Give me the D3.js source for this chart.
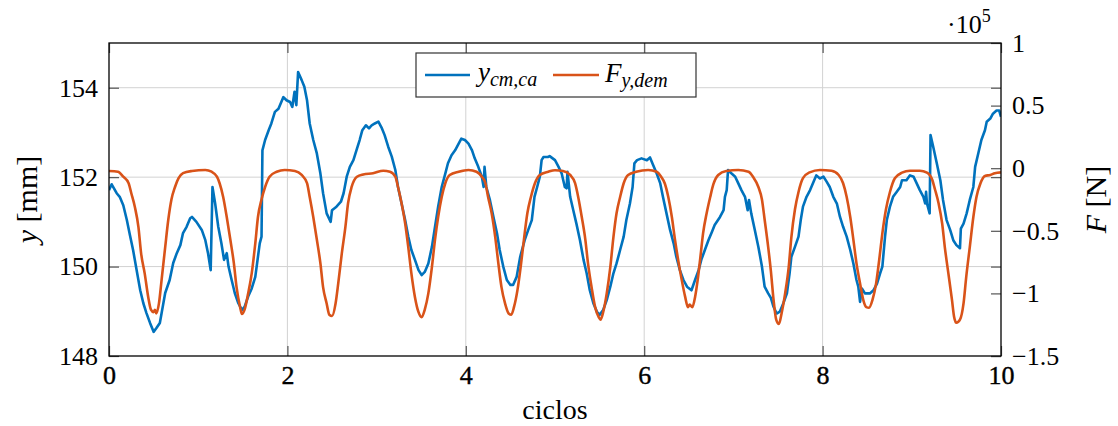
<!DOCTYPE html>
<html>
<head>
<meta charset="utf-8">
<script src="https://cdn.jsdelivr.net/npm/d3@7/dist/d3.min.js"></script>
<style>
  html, body { margin: 0; padding: 0; background: #fff; }
  svg { display: block; }
  text { font-family: "Liberation Serif", "DejaVu Serif", serif; fill: #000; }
</style>
</head>
<body>
<svg id="chart" width="1118" height="426"></svg>
<script>
// Ciclos (x) for the measured centre-of-mass displacement y_cm,ca [mm]
const yCmX = [0.00,0.03,0.086,0.12,0.16,0.20,0.235,0.27,0.31,0.35,0.385,0.42,0.46,0.50,0.53,0.57,0.59,0.63,0.68,0.72,0.76,0.80,0.83,0.87,0.91,0.93,0.98,1.04,1.08,1.11,1.14,1.16,1.19,1.225,1.26,1.29,1.32,1.34,1.375,1.41,1.45,1.49,1.52,1.56,1.60,1.64,1.67,1.69,1.71,1.72,1.75,1.79,1.82,1.86,1.90,1.94,1.955,1.99,2.03,2.055,2.08,2.10,2.12,2.16,2.19,2.22,2.25,2.29,2.33,2.37,2.40,2.44,2.485,2.50,2.55,2.60,2.63,2.665,2.70,2.74,2.78,2.81,2.84,2.88,2.915,2.945,2.98,3.02,3.06,3.09,3.13,3.17,3.21,3.24,3.28,3.32,3.355,3.39,3.43,3.47,3.505,3.54,3.58,3.62,3.655,3.69,3.73,3.77,3.80,3.84,3.88,3.92,3.95,3.99,4.03,4.07,4.10,4.14,4.18,4.20,4.21,4.23,4.27,4.31,4.35,4.38,4.42,4.46,4.50,4.53,4.57,4.61,4.66,4.70,4.74,4.77,4.80,4.83,4.85,4.87,4.92,4.94,5.00,5.04,5.075,5.11,5.13,5.14,5.17,5.205,5.24,5.28,5.32,5.355,5.39,5.43,5.47,5.50,5.54,5.58,5.62,5.655,5.69,5.73,5.77,5.80,5.84,5.87,5.89,5.92,5.97,6.03,6.065,6.10,6.14,6.18,6.21,6.25,6.29,6.33,6.36,6.40,6.44,6.48,6.53,6.57,6.61,6.64,6.68,6.72,6.76,6.79,6.85,6.89,6.905,6.925,6.94,6.98,7.02,7.055,7.09,7.13,7.16,7.175,7.20,7.24,7.28,7.32,7.35,7.39,7.42,7.45,7.485,7.52,7.56,7.60,7.63,7.65,7.69,7.73,7.755,7.78,7.82,7.86,7.90,7.93,7.97,8.01,8.045,8.08,8.12,8.16,8.195,8.23,8.27,8.31,8.345,8.38,8.40,8.42,8.44,8.475,8.53,8.57,8.61,8.645,8.67,8.70,8.72,8.755,8.79,8.83,8.87,8.89,8.94,8.98,9.02,9.055,9.09,9.13,9.15,9.16,9.17,9.20,9.21,9.24,9.28,9.32,9.35,9.39,9.43,9.465,9.50,9.54,9.55,9.58,9.615,9.65,9.69,9.71,9.745,9.78,9.82,9.84,9.88,9.91,9.95,9.98,10.0];
const yCmVal = [151.71,151.84,151.64,151.56,151.37,151.04,150.70,150.37,149.92,149.47,149.18,148.96,148.74,148.54,148.62,148.74,148.96,149.41,149.70,150.08,150.30,150.48,150.75,150.89,151.08,151.11,151.00,150.82,150.59,150.30,149.92,151.78,151.41,150.89,150.52,150.15,150.30,150.00,149.70,149.41,149.18,149.03,149.10,149.33,149.51,149.77,150.22,150.52,150.67,152.60,152.83,153.05,153.20,153.46,153.53,153.72,153.79,153.72,153.68,153.57,153.91,153.61,154.35,154.17,154.02,153.72,153.20,152.83,152.53,152.08,151.64,151.19,151.00,151.26,151.34,151.45,151.64,152.01,152.23,152.38,152.64,152.83,153.05,153.16,153.09,153.16,153.20,153.24,153.09,152.94,152.68,152.46,152.16,151.78,151.41,151.04,150.67,150.37,150.15,149.92,149.81,149.88,150.07,150.44,150.89,151.34,151.78,152.08,152.31,152.49,152.60,152.75,152.86,152.83,152.75,152.60,152.42,152.23,152.01,151.78,152.23,151.78,151.49,151.11,150.74,150.37,150.00,149.70,149.59,149.59,149.77,150.22,150.59,150.82,151.04,151.56,151.78,152.01,152.38,152.45,152.45,152.47,152.38,152.23,152.08,151.78,151.75,152.12,151.56,151.26,150.96,150.59,150.15,149.85,149.47,149.18,148.99,148.92,149.03,149.25,149.55,149.85,150.07,150.37,150.67,151.04,151.41,151.78,152.31,152.38,152.42,152.38,152.44,152.27,152.08,151.86,151.56,151.19,150.82,150.52,150.22,149.92,149.70,149.55,149.47,149.70,149.92,150.15,150.37,150.59,150.78,150.93,151.11,151.26,151.56,151.71,152.16,152.08,152.01,151.86,151.71,151.56,151.26,151.49,151.19,150.82,150.44,150.00,149.55,149.40,149.30,149.10,148.95,148.99,149.18,149.40,149.85,150.22,150.44,150.67,151.04,151.34,151.56,151.71,151.90,152.04,151.97,152.01,151.90,151.78,151.56,151.41,151.11,150.89,150.67,150.37,150.07,149.70,149.55,149.21,149.51,149.40,149.40,149.47,149.62,149.85,150.00,150.67,151.04,151.34,151.56,151.67,151.78,151.93,151.93,152.04,152.01,151.86,151.71,151.56,151.41,151.67,151.41,151.19,152.94,152.68,152.31,151.93,151.49,151.04,150.82,150.59,150.48,150.41,150.85,150.96,151.19,151.49,151.78,152.23,152.53,152.83,153.05,153.24,153.31,153.42,153.49,153.49,153.35];

// Ciclos (x) for the demanded force F_y,dem, values in units of 10^5 N
const fDemX = [0.00,0.10,0.16,0.22,0.25,0.29,0.33,0.36,0.40,0.44,0.47,0.50,0.515,0.53,0.56,0.59,0.63,0.665,0.70,0.74,0.78,0.83,0.93,1.08,1.15,1.21,1.24,1.28,1.32,1.36,1.40,1.43,1.47,1.49,1.52,1.56,1.60,1.64,1.67,1.71,1.75,1.80,1.88,1.97,2.085,2.16,2.22,2.25,2.29,2.33,2.37,2.40,2.44,2.47,2.50,2.54,2.57,2.61,2.65,2.68,2.72,2.78,2.85,2.96,3.075,3.15,3.21,3.24,3.28,3.32,3.355,3.39,3.43,3.47,3.505,3.54,3.58,3.62,3.655,3.69,3.73,3.77,3.82,3.92,4.03,4.12,4.18,4.22,4.25,4.29,4.33,4.365,4.40,4.44,4.48,4.51,4.54,4.58,4.62,4.655,4.69,4.73,4.775,4.83,4.925,5.00,5.09,5.17,5.225,5.26,5.30,5.34,5.37,5.41,5.45,5.49,5.51,5.54,5.58,5.62,5.655,5.69,5.73,5.77,5.82,5.91,6.045,6.14,6.19,6.23,6.27,6.31,6.345,6.38,6.42,6.46,6.49,6.51,6.54,6.57,6.60,6.63,6.66,6.70,6.74,6.775,6.83,6.92,7.055,7.17,7.22,7.28,7.32,7.35,7.39,7.42,7.45,7.48,7.51,7.54,7.58,7.62,7.65,7.69,7.73,7.78,7.855,7.97,8.10,8.18,8.23,8.27,8.31,8.345,8.38,8.42,8.455,8.49,8.52,8.56,8.60,8.635,8.67,8.71,8.755,8.81,8.89,8.98,9.09,9.17,9.23,9.26,9.30,9.34,9.37,9.41,9.45,9.475,9.50,9.54,9.58,9.61,9.65,9.69,9.725,9.77,9.82,9.88,9.93,10.0];
const fDemVal = [-0.022,-0.028,-0.068,-0.12,-0.20,-0.31,-0.47,-0.68,-0.84,-1.03,-1.13,-1.15,-1.13,-1.16,-1.08,-0.89,-0.63,-0.41,-0.25,-0.15,-0.08,-0.04,-0.022,-0.014,-0.028,-0.068,-0.12,-0.23,-0.39,-0.57,-0.76,-0.95,-1.11,-1.165,-1.13,-1.00,-0.84,-0.60,-0.39,-0.25,-0.15,-0.068,-0.028,-0.014,-0.022,-0.054,-0.12,-0.23,-0.39,-0.57,-0.76,-0.95,-1.08,-1.17,-1.18,-1.08,-0.92,-0.68,-0.47,-0.28,-0.15,-0.068,-0.05,-0.04,-0.02,-0.028,-0.068,-0.15,-0.28,-0.44,-0.63,-0.84,-1.03,-1.15,-1.19,-1.13,-1.00,-0.79,-0.57,-0.39,-0.23,-0.12,-0.054,-0.028,-0.014,-0.028,-0.068,-0.12,-0.23,-0.36,-0.55,-0.76,-0.95,-1.08,-1.16,-1.17,-1.11,-0.97,-0.76,-0.55,-0.36,-0.23,-0.12,-0.054,-0.028,-0.016,-0.022,-0.054,-0.12,-0.23,-0.39,-0.57,-0.76,-0.95,-1.11,-1.19,-1.21,-1.15,-1.00,-0.79,-0.55,-0.36,-0.23,-0.12,-0.054,-0.028,-0.014,-0.028,-0.068,-0.12,-0.23,-0.39,-0.57,-0.73,-0.89,-1.03,-1.11,-1.09,-1.11,-1.03,-0.89,-0.71,-0.52,-0.36,-0.23,-0.13,-0.054,-0.022,-0.014,-0.028,-0.068,-0.15,-0.25,-0.41,-0.63,-0.82,-1.05,-1.21,-1.245,-1.16,-1.00,-0.79,-0.55,-0.33,-0.19,-0.08,-0.033,-0.014,-0.02,-0.054,-0.12,-0.23,-0.39,-0.57,-0.76,-0.92,-1.05,-1.11,-1.115,-1.05,-0.92,-0.73,-0.52,-0.33,-0.19,-0.08,-0.036,-0.02,-0.02,-0.036,-0.094,-0.17,-0.28,-0.44,-0.63,-0.84,-1.05,-1.19,-1.235,-1.21,-1.08,-0.87,-0.63,-0.39,-0.23,-0.12,-0.062,-0.054,-0.04,-0.033];

// Axis ticks
const xTicks = [0, 2, 4, 6, 8, 10];
const yLeftTicks = [148, 150, 152, 154];
const yRightTicks = [-1.5, -1, -0.5, 0, 0.5, 1];
const yRightTickLabels = ["\u22121.5", "\u22121", "\u22120.5", "0", "0.5", "1"];

const blue = "#0072BD";
const orange = "#D95319";
const serif = "'Liberation Serif', 'DejaVu Serif', serif";

const svg = d3.select("#chart");
const plot = { left: 109, right: 1001, top: 43, bottom: 356 };

const x = d3.scaleLinear().domain([0, 10]).range([plot.left, plot.right]);
const yL = d3.scaleLinear().domain([148, 155]).range([plot.bottom, plot.top]);
const yR = d3.scaleLinear().domain([-1.5, 1]).range([plot.bottom, plot.top]);

const tickLen = 10;
const gridColor = "#d2d2d2";
const tickColor = "#555";

// grid
const grid = svg.append("g");
grid.selectAll("line.vx").data(xTicks.filter(t => t > 0 && t < 10)).enter().append("line")
  .attr("x1", d => x(d)).attr("x2", d => x(d))
  .attr("y1", plot.top).attr("y2", plot.bottom)
  .attr("stroke", gridColor).attr("stroke-width", 1);
grid.selectAll("line.hy").data(yLeftTicks.filter(t => t > 148)).enter().append("line")
  .attr("x1", plot.left).attr("x2", plot.right)
  .attr("y1", d => yL(d)).attr("y2", d => yL(d))
  .attr("stroke", gridColor).attr("stroke-width", 1);

// axes built with d3 axis generators, ticks pointing inward
const xAxisB = d3.axisBottom(x).tickValues(xTicks).tickSizeInner(-tickLen).tickSizeOuter(0).tickPadding(10).tickFormat(d3.format("d"));
const xAxisT = d3.axisTop(x).tickValues(xTicks).tickSizeInner(-tickLen).tickSizeOuter(0).tickFormat("");
const yAxisL = d3.axisLeft(yL).tickValues(yLeftTicks).tickSizeInner(-tickLen).tickSizeOuter(0).tickPadding(11).tickFormat(d3.format("d"));
const yAxisLR = d3.axisRight(yL).tickValues(yLeftTicks).tickSizeInner(-tickLen).tickSizeOuter(0).tickFormat("");
const yAxisR = d3.axisRight(yR).tickValues(yRightTicks).tickSizeInner(-tickLen).tickSizeOuter(0).tickPadding(11)
  .tickFormat((d, i) => yRightTickLabels[i]);

function styleAxis(g) {
  g.attr("font-family", null).attr("font-size", null);
  g.select(".domain").remove();
  g.selectAll(".tick line").attr("stroke", tickColor).attr("stroke-width", 1.2);
  g.selectAll(".tick text").style("font-family", serif)
    .style("font-size", "26px").attr("fill", "#000");
}

svg.append("g").attr("transform", `translate(0,${plot.bottom})`).call(xAxisB).call(styleAxis)
  .selectAll(".tick text").attr("stroke", "#000").attr("stroke-width", 0.4);
svg.append("g").attr("transform", `translate(0,${plot.top})`).call(xAxisT).call(styleAxis);
svg.append("g").attr("transform", `translate(${plot.left},0)`).call(yAxisL).call(styleAxis);
svg.append("g").attr("transform", `translate(${plot.right},0)`).call(yAxisLR).call(styleAxis);
svg.append("g").attr("transform", `translate(${plot.right},0)`).call(yAxisR).call(styleAxis);

// data lines
svg.append("clipPath").attr("id", "plotClip").append("rect")
  .attr("x", plot.left).attr("y", plot.top)
  .attr("width", plot.right - plot.left).attr("height", plot.bottom - plot.top);

const yCmData = yCmX.map((v, i) => [v, yCmVal[i]]);
const fDemData = fDemX.map((v, i) => [v, fDemVal[i]]);

const lineL = d3.line().x(d => x(d[0])).y(d => yL(d[1]));
const lineR = d3.line().x(d => x(d[0])).y(d => yR(d[1])).curve(d3.curveMonotoneX);

const lines = svg.append("g").attr("clip-path", "url(#plotClip)");
lines.append("path").datum(yCmData).attr("d", lineL)
  .attr("fill", "none").attr("stroke", blue).attr("stroke-width", 2.6).attr("stroke-linejoin", "round");
lines.append("path").datum(fDemData).attr("d", lineR)
  .attr("fill", "none").attr("stroke", orange).attr("stroke-width", 2.6).attr("stroke-linejoin", "round");

// frame
svg.append("rect")
  .attr("x", plot.left).attr("y", plot.top)
  .attr("width", plot.right - plot.left).attr("height", plot.bottom - plot.top)
  .attr("fill", "none").attr("stroke", "#000").attr("stroke-width", 1.3);

// scale multiplier for the right axis
const mult = svg.append("text").attr("x", 947).attr("y", 33).style("font-size", "26px");
mult.append("tspan").text("\u00b710");
mult.append("tspan").attr("dy", -11).style("font-size", "18px").text("5");

// axis titles
svg.append("text").attr("x", x(5)).attr("y", 419).attr("text-anchor", "middle")
  .style("font-size", "28px").text("ciclos");

const yTitle = svg.append("text")
  .attr("transform", `translate(37,${(plot.top + plot.bottom) / 2}) rotate(-90)`)
  .attr("text-anchor", "middle").style("font-size", "30px");
yTitle.append("tspan").attr("font-style", "italic").text("y");
yTitle.append("tspan").text(" [mm]");

const fTitle = svg.append("text")
  .attr("transform", `translate(1106,${(plot.top + plot.bottom) / 2}) rotate(-90)`)
  .attr("text-anchor", "middle").style("font-size", "30px");
fTitle.append("tspan").attr("font-style", "italic").text("F");
fTitle.append("tspan").text(" [N]");

// legend
const lg = svg.append("g");
lg.append("rect").attr("x", 416).attr("y", 53).attr("width", 280).attr("height", 44)
  .attr("fill", "#fff").attr("stroke", "#333").attr("stroke-width", 1.2);
lg.append("line").attr("x1", 425).attr("x2", 470).attr("y1", 75).attr("y2", 75)
  .attr("stroke", blue).attr("stroke-width", 2.6);
const t1 = lg.append("text").attr("x", 478).attr("y", 81).style("font-size", "27px").attr("font-style", "italic");
t1.append("tspan").text("y");
t1.append("tspan").attr("dy", 5).style("font-size", "20px").text("cm,ca");
lg.append("line").attr("x1", 553).attr("x2", 599).attr("y1", 75).attr("y2", 75)
  .attr("stroke", orange).attr("stroke-width", 2.6);
const t2 = lg.append("text").attr("x", 605).attr("y", 82).style("font-size", "27px").attr("font-style", "italic");
t2.append("tspan").text("F");
t2.append("tspan").attr("dy", 5).style("font-size", "20px").text("y,dem");
</script>
</body>
</html>
